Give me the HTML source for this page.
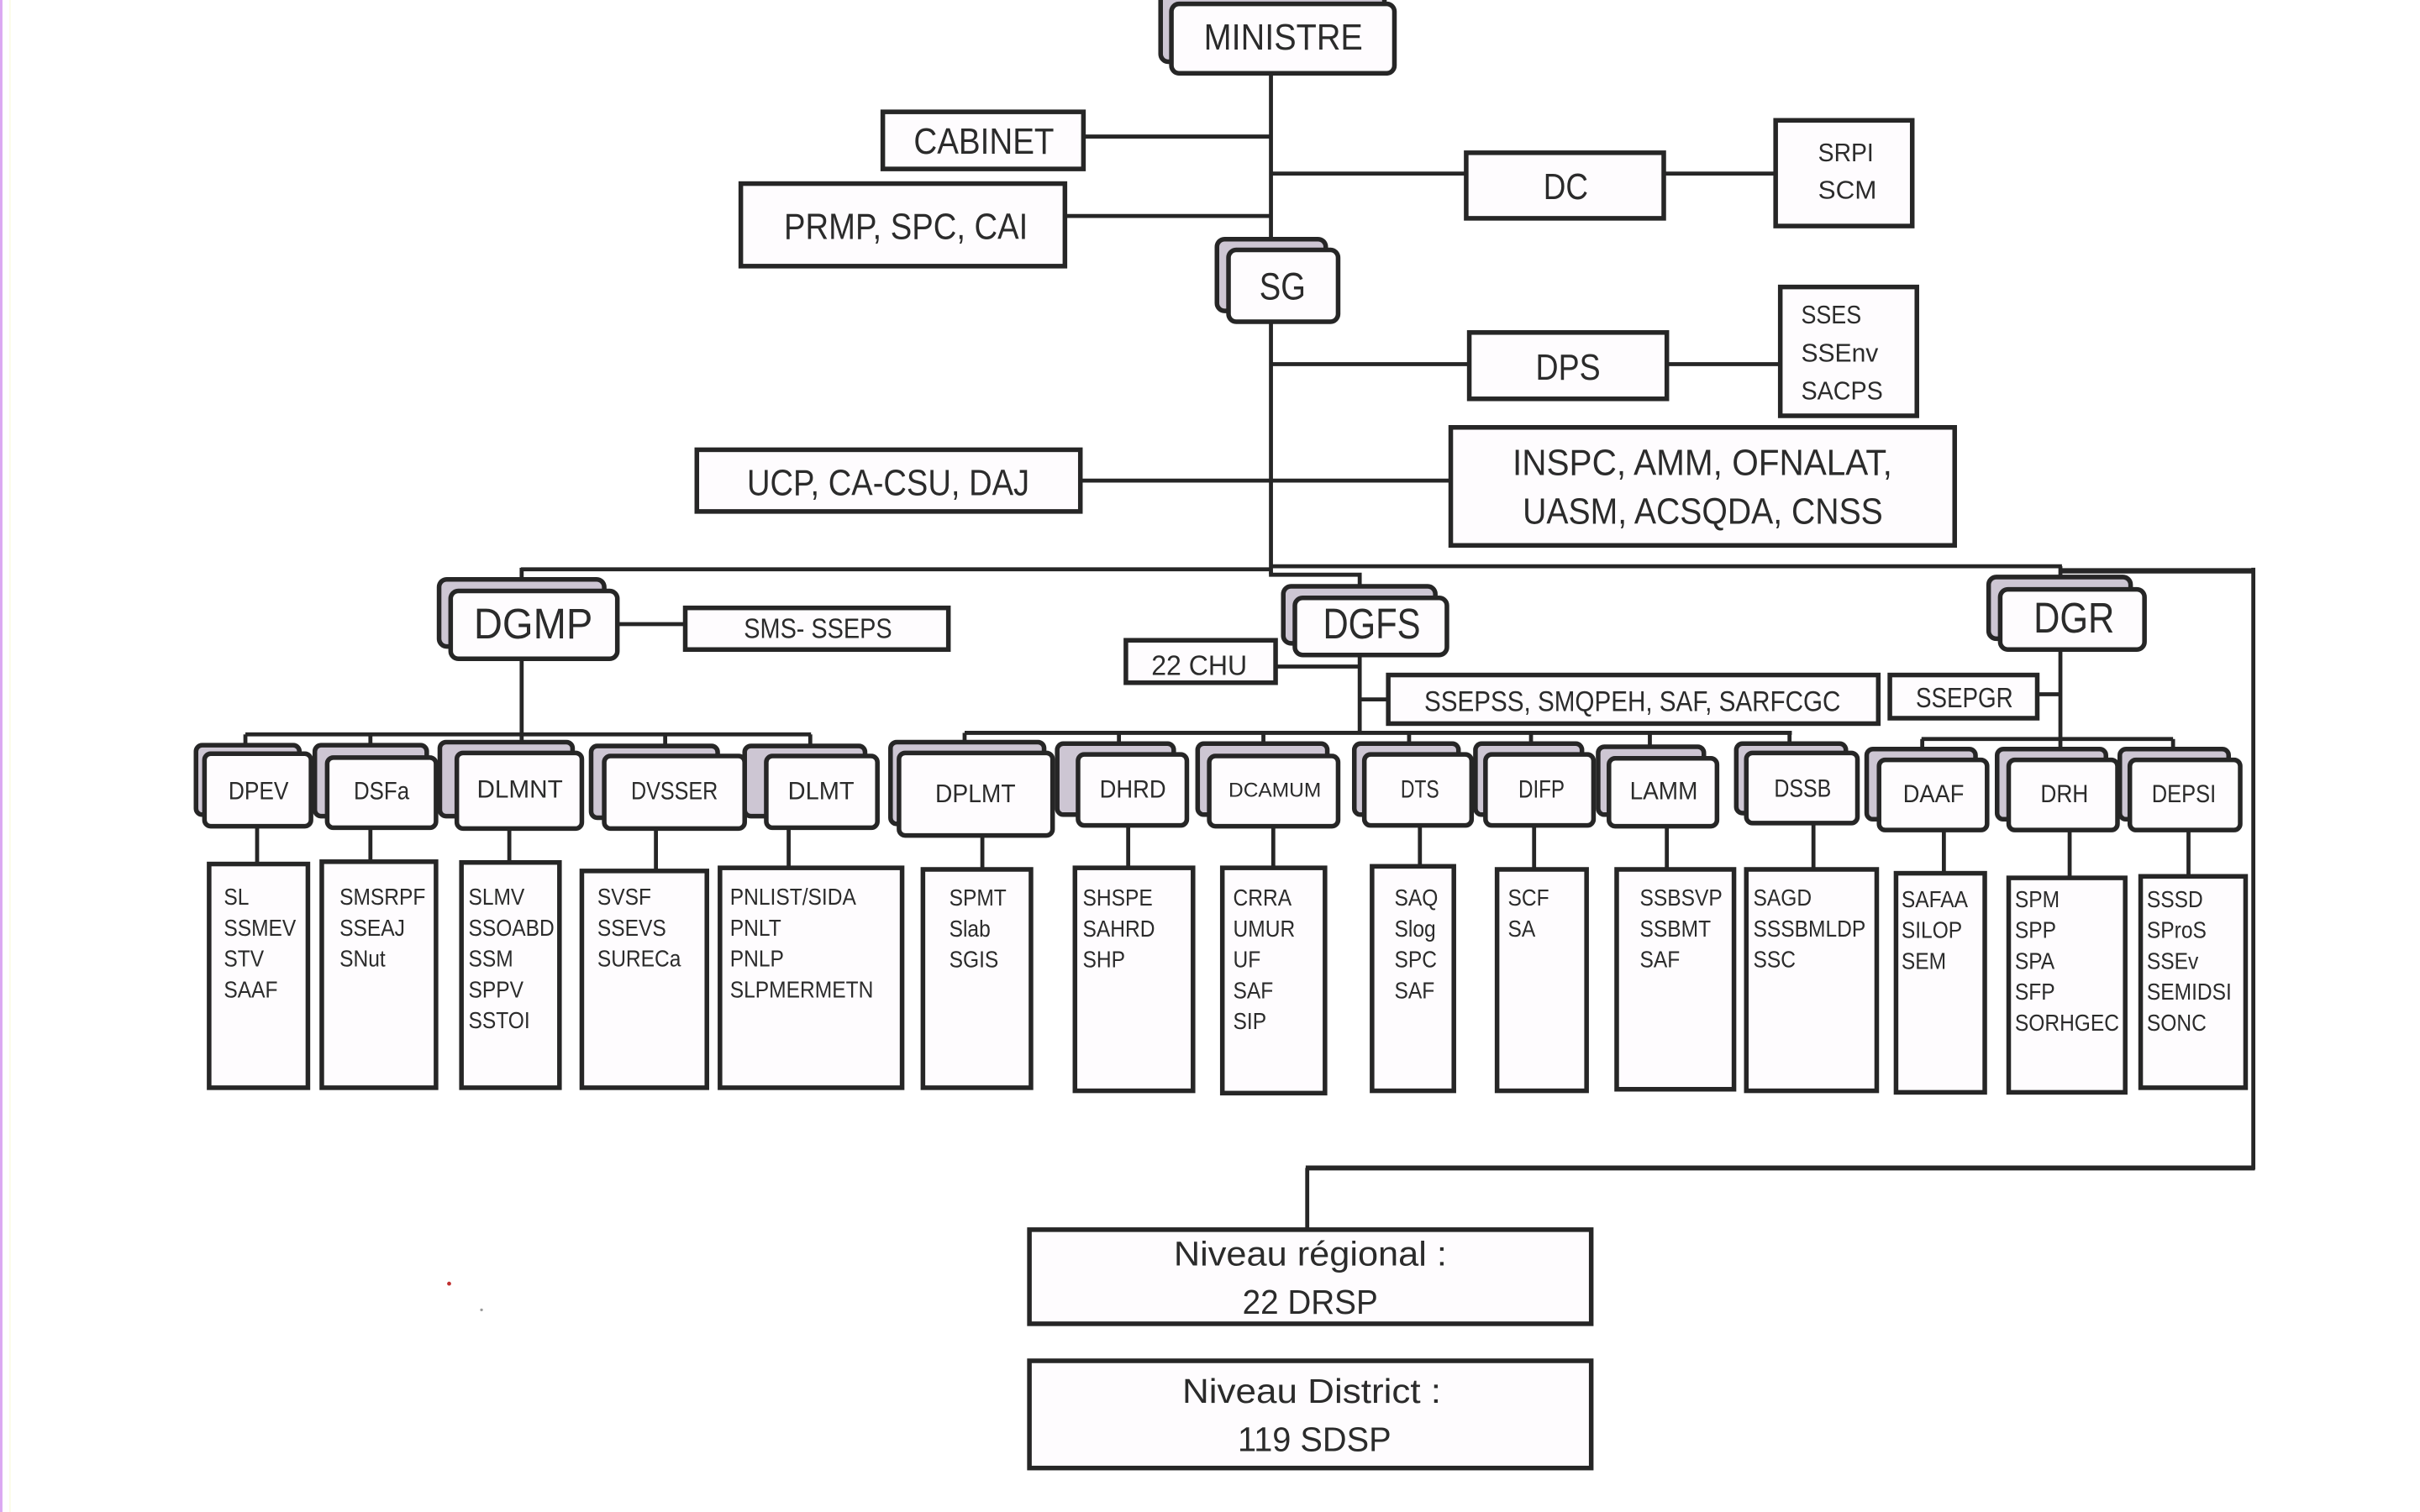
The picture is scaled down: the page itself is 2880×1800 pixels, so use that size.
<!DOCTYPE html>
<html><head><meta charset="utf-8"><style>
html,body{margin:0;padding:0;background:#fff;overflow:hidden}
svg{display:block}
.t{font-family:"Liberation Sans",sans-serif;fill:#2b2b2b}
.b{fill:#fefcfe;stroke:#262626;stroke-width:3}
.s{fill:#cdc6d3;stroke:#262626;stroke-width:3}
.l{stroke:#262626;stroke-width:2.6;fill:none}
</style></head><body>
<svg xmlns="http://www.w3.org/2000/svg" width="2880" height="1800" viewBox="0 0 1568 980" preserveAspectRatio="none">
<rect x="0" y="0" width="1568" height="980" fill="#ffffff"/>
<rect x="0" y="0" width="1.6" height="980" fill="#dba8f2"/>
<rect x="6" y="0" width="1" height="980" fill="#fbfbe8"/>

<!-- connectors -->
<g class="l">
<line x1="823.5" y1="44" x2="823.5" y2="372"/>
<line x1="702" y1="88.5" x2="823.5" y2="88.5"/>
<line x1="690" y1="140" x2="823.5" y2="140"/>
<line x1="823.5" y1="112.5" x2="950" y2="112.5"/>
<line x1="1078" y1="112.5" x2="1151" y2="112.5"/>
<line x1="823.5" y1="236" x2="952" y2="236"/>
<line x1="1080" y1="236" x2="1154" y2="236"/>
<line x1="700" y1="311.5" x2="940" y2="311.5"/>
<line x1="337.5" y1="369" x2="823.5" y2="369"/>
<line x1="823.5" y1="367" x2="1336" y2="367"/>
<line x1="1335" y1="370" x2="1460" y2="370" stroke-width="3.5"/>
<line x1="1460" y1="368" x2="1460" y2="758"/>
<line x1="1461" y1="757" x2="846" y2="757" stroke-width="3.2"/>
<line x1="847" y1="757" x2="847" y2="797"/>
<line x1="338" y1="368" x2="338" y2="377"/>
<polyline points="823.5,371 823.5,372.5 881,372.5 881,381"/>
<line x1="1335" y1="367" x2="1335" y2="375"/>
<line x1="400" y1="404.5" x2="444" y2="404.5"/>
<line x1="338" y1="427" x2="338" y2="482"/>
<line x1="159" y1="476" x2="525.5" y2="476"/>
<line x1="159" y1="476" x2="159" y2="484"/>
<line x1="240" y1="476" x2="240" y2="484"/>
<line x1="431" y1="476" x2="431" y2="485"/>
<line x1="525" y1="476" x2="525" y2="485"/>
<line x1="826" y1="432" x2="881" y2="432"/>
<line x1="881" y1="424" x2="881" y2="476"/>
<line x1="881" y1="453.3" x2="899" y2="453.3"/>
<line x1="625" y1="475" x2="1161" y2="475"/>
<line x1="625" y1="475" x2="625" y2="482"/>
<line x1="725" y1="475" x2="725" y2="483"/>
<line x1="818.6" y1="475" x2="818.6" y2="483"/>
<line x1="913" y1="475" x2="913" y2="483"/>
<line x1="992" y1="475" x2="992" y2="483"/>
<line x1="1069" y1="475" x2="1069" y2="485"/>
<line x1="1159.5" y1="475" x2="1159.5" y2="483"/>
<line x1="1335" y1="421" x2="1335" y2="480"/>
<line x1="1320" y1="450" x2="1335" y2="450"/>
<line x1="1245" y1="479" x2="1408" y2="479"/>
<line x1="1245.5" y1="479" x2="1245.5" y2="487"/>
<line x1="1335" y1="479" x2="1335" y2="487"/>
<line x1="1408" y1="479" x2="1408" y2="487"/>
<line x1="166.6" y1="535" x2="166.6" y2="561"/>
<line x1="240" y1="536" x2="240" y2="559"/>
<line x1="330" y1="537" x2="330" y2="560"/>
<line x1="425" y1="537" x2="425" y2="565"/>
<line x1="511" y1="536" x2="511" y2="563"/>
<line x1="636.5" y1="541" x2="636.5" y2="564"/>
<line x1="731" y1="535" x2="731" y2="563"/>
<line x1="825" y1="535" x2="825" y2="563"/>
<line x1="920" y1="535" x2="920" y2="562"/>
<line x1="994" y1="535" x2="994" y2="564"/>
<line x1="1080" y1="535" x2="1080" y2="564"/>
<line x1="1175" y1="533" x2="1175" y2="564"/>
<line x1="1259.5" y1="538" x2="1259.5" y2="567"/>
<line x1="1341" y1="538" x2="1341" y2="570"/>
<line x1="1418" y1="538" x2="1418" y2="569"/>
</g>

<!-- top level boxes -->
<rect class="s" x="752" y="-6" width="145" height="46" rx="5"/>
<rect class="b" x="759" y="2.5" width="144.5" height="45" rx="5"/>
<rect class="b" x="572" y="72.5" width="130" height="37"/>
<rect class="b" x="480" y="119" width="210" height="53.5"/>
<rect class="b" x="950" y="99" width="128" height="42.5"/>
<rect class="b" x="1150.5" y="78" width="88.5" height="68.5"/>
<rect class="s" x="788.5" y="155" width="70.5" height="46.5" rx="5"/>
<rect class="b" x="796" y="162" width="71" height="46.5" rx="5"/>
<rect class="b" x="952" y="215.5" width="128" height="43"/>
<rect class="b" x="1153.5" y="186" width="88.5" height="83.5"/>
<rect class="b" x="451.5" y="291.5" width="248.5" height="40"/>
<rect class="b" x="940" y="277" width="326.5" height="76.5"/>

<rect class="s" x="284.5" y="375.5" width="107" height="43.5" rx="5"/>
<rect class="b" x="292" y="383" width="108" height="44" rx="5"/>
<rect class="b" x="444" y="394" width="170.5" height="27"/>
<rect class="s" x="831.5" y="380" width="98.5" height="37" rx="5"/>
<rect class="b" x="839" y="387.5" width="98.5" height="37" rx="5"/>
<rect class="b" x="729.5" y="415" width="97" height="27.5"/>
<rect class="b" x="899.5" y="437.5" width="317.5" height="31.5"/>
<rect class="b" x="1224.5" y="437.5" width="95.5" height="28"/>
<rect class="s" x="1288.5" y="374" width="92" height="40" rx="5"/>
<rect class="b" x="1296" y="382" width="93.5" height="39" rx="5"/>

<!-- child boxes -->
<rect class="s" x="127" y="483" width="67" height="45" rx="4"/>
<rect class="b" x="132.5" y="488.5" width="69" height="47" rx="4"/>
<rect class="s" x="204" y="483" width="72.5" height="46" rx="4"/>
<rect class="b" x="212" y="491" width="70.5" height="45.5" rx="4"/>
<rect class="s" x="285" y="481" width="86" height="48" rx="4"/>
<rect class="b" x="296" y="488" width="81" height="49" rx="4"/>
<rect class="s" x="383" y="483.5" width="82" height="46.5" rx="4"/>
<rect class="b" x="391.5" y="490" width="91" height="47" rx="4"/>
<rect class="s" x="482.5" y="483.5" width="78" height="45.5" rx="4"/>
<rect class="b" x="496.5" y="490" width="72" height="46.5" rx="4"/>
<rect class="s" x="577" y="481" width="99.5" height="53" rx="4"/>
<rect class="b" x="582.5" y="488" width="99.5" height="53.5" rx="4"/>
<rect class="s" x="685" y="482" width="75.5" height="46" rx="4"/>
<rect class="b" x="698.5" y="489" width="70.5" height="46" rx="4"/>
<rect class="s" x="776" y="482" width="84" height="46" rx="4"/>
<rect class="b" x="783.5" y="490" width="83.5" height="45.5" rx="4"/>
<rect class="s" x="877.5" y="482" width="67.5" height="46" rx="4"/>
<rect class="b" x="884" y="489" width="69.5" height="46" rx="4"/>
<rect class="s" x="956" y="482" width="69" height="46" rx="4"/>
<rect class="b" x="962.5" y="489" width="70" height="46" rx="4"/>
<rect class="s" x="1035.5" y="484" width="68.5" height="44" rx="4"/>
<rect class="b" x="1042.5" y="491.5" width="70" height="44" rx="4"/>
<rect class="s" x="1125" y="482" width="71" height="45" rx="4"/>
<rect class="b" x="1131.5" y="488" width="72" height="45.5" rx="4"/>
<rect class="s" x="1209.5" y="485.5" width="70.5" height="45.5" rx="4"/>
<rect class="b" x="1217.5" y="492.5" width="70" height="45.5" rx="4"/>
<rect class="s" x="1294" y="485.5" width="70.5" height="45.5" rx="4"/>
<rect class="b" x="1301.5" y="492.5" width="70.5" height="45.5" rx="4"/>
<rect class="s" x="1373.5" y="485.5" width="70.5" height="45.5" rx="4"/>
<rect class="b" x="1380" y="492.5" width="71.5" height="45.5" rx="4"/>

<!-- list boxes -->
<rect class="b" x="135.5" y="560" width="64" height="145"/>
<rect class="b" x="208.5" y="558.5" width="74" height="146.5"/>
<rect class="b" x="299" y="559" width="63.5" height="146"/>
<rect class="b" x="377" y="564.5" width="81" height="140.5"/>
<rect class="b" x="466.5" y="562.5" width="118" height="142.5"/>
<rect class="b" x="598" y="563.5" width="70" height="141.5"/>
<rect class="b" x="696.5" y="562.5" width="76.5" height="144.5"/>
<rect class="b" x="792" y="562.5" width="66.5" height="146"/>
<rect class="b" x="889" y="561.5" width="53" height="145.5"/>
<rect class="b" x="970" y="563.5" width="58" height="143.5"/>
<rect class="b" x="1047.5" y="563.5" width="76" height="142.5"/>
<rect class="b" x="1131.5" y="563.5" width="84.5" height="143.5"/>
<rect class="b" x="1228.5" y="566" width="57.5" height="142"/>
<rect class="b" x="1301.5" y="569" width="75.5" height="139"/>
<rect class="b" x="1387" y="568" width="68" height="137"/>

<!-- bottom boxes -->
<rect class="b" x="667" y="797" width="364" height="61"/>
<rect class="b" x="667" y="882" width="364" height="69.5"/>

<!-- labels -->
<g class="t" text-anchor="middle">
<text x="831.5" y="32" font-size="23.5" textLength="103" lengthAdjust="spacingAndGlyphs">MINISTRE</text>
<text x="637.5" y="99.7" font-size="23.5" textLength="91" lengthAdjust="spacingAndGlyphs">CABINET</text>
<text x="587" y="155" font-size="23.5" textLength="158" lengthAdjust="spacingAndGlyphs">PRMP, SPC, CAI</text>
<text x="1014.5" y="129" font-size="23.5" textLength="29" lengthAdjust="spacingAndGlyphs">DC</text>
<text x="1196" y="104.5" font-size="16.5" textLength="36" lengthAdjust="spacingAndGlyphs">SRPI</text>
<text x="1197" y="128.8" font-size="16.5" textLength="38" lengthAdjust="spacingAndGlyphs">SCM</text>
<text x="831" y="194" font-size="24.5" textLength="30" lengthAdjust="spacingAndGlyphs">SG</text>
<text x="1016" y="246" font-size="23.5" textLength="42" lengthAdjust="spacingAndGlyphs">DPS</text>
<text x="575.5" y="321" font-size="23.5" textLength="183" lengthAdjust="spacingAndGlyphs">UCP, CA-CSU, DAJ</text>
<text x="1103" y="308" font-size="23.5" textLength="246" lengthAdjust="spacingAndGlyphs">INSPC, AMM, OFNALAT,</text>
<text x="1103.3" y="339.5" font-size="23.5" textLength="233.4" lengthAdjust="spacingAndGlyphs">UASM, ACSQDA, CNSS</text>
<text x="345.5" y="413.8" font-size="28" textLength="77" lengthAdjust="spacingAndGlyphs">DGMP</text>
<text x="530" y="413.5" font-size="18" textLength="96" lengthAdjust="spacingAndGlyphs">SMS- SSEPS</text>
<text x="888.8" y="413.8" font-size="28" textLength="63.2" lengthAdjust="spacingAndGlyphs">DGFS</text>
<text x="777" y="437.5" font-size="18" textLength="62" lengthAdjust="spacingAndGlyphs">22 CHU</text>
<text x="1057.7" y="461" font-size="18.5" textLength="269.7" lengthAdjust="spacingAndGlyphs">SSEPSS, SMQPEH, SAF, SARFCGC</text>
<text x="1272.8" y="458.3" font-size="18" textLength="63" lengthAdjust="spacingAndGlyphs">SSEPGR</text>
<text x="1343.8" y="410" font-size="28" textLength="52.4" lengthAdjust="spacingAndGlyphs">DGR</text>

<text x="167.5" y="518" font-size="16" textLength="39" lengthAdjust="spacingAndGlyphs">DPEV</text>
<text x="247.2" y="518" font-size="16" textLength="36" lengthAdjust="spacingAndGlyphs">DSFa</text>
<text x="336.8" y="517" font-size="16" textLength="55.7" lengthAdjust="spacingAndGlyphs">DLMNT</text>
<text x="437" y="518" font-size="16" textLength="56.3" lengthAdjust="spacingAndGlyphs">DVSSER</text>
<text x="532" y="518" font-size="16" textLength="43" lengthAdjust="spacingAndGlyphs">DLMT</text>
<text x="632" y="520" font-size="16.5" textLength="52" lengthAdjust="spacingAndGlyphs">DPLMT</text>
<text x="734" y="517" font-size="16" textLength="43" lengthAdjust="spacingAndGlyphs">DHRD</text>
<text x="826" y="516.3" font-size="13" textLength="60" lengthAdjust="spacingAndGlyphs">DCAMUM</text>
<text x="920" y="517" font-size="16" textLength="25" lengthAdjust="spacingAndGlyphs">DTS</text>
<text x="998.8" y="517" font-size="16" textLength="30" lengthAdjust="spacingAndGlyphs">DIFP</text>
<text x="1078" y="518" font-size="16" textLength="44" lengthAdjust="spacingAndGlyphs">LAMM</text>
<text x="1168" y="516.3" font-size="16" textLength="37" lengthAdjust="spacingAndGlyphs">DSSB</text>
<text x="1252.8" y="520" font-size="16" textLength="39.6" lengthAdjust="spacingAndGlyphs">DAAF</text>
<text x="1337.6" y="520" font-size="16" textLength="31" lengthAdjust="spacingAndGlyphs">DRH</text>
<text x="1415" y="520" font-size="16" textLength="41.6" lengthAdjust="spacingAndGlyphs">DEPSI</text>

<text x="849" y="820.3" font-size="22" textLength="177" lengthAdjust="spacingAndGlyphs">Niveau régional :</text>
<text x="848.9" y="851.5" font-size="22" textLength="87.7" lengthAdjust="spacingAndGlyphs">22 DRSP</text>
<text x="849.9" y="909.3" font-size="22" textLength="167.7" lengthAdjust="spacingAndGlyphs">Niveau District :</text>
<text x="851.7" y="940.5" font-size="22" textLength="99.4" lengthAdjust="spacingAndGlyphs">119 SDSP</text>
</g>

<g class="t">
<text x="1167" y="209.5" font-size="16.8" textLength="39" lengthAdjust="spacingAndGlyphs">SSES</text>
<text x="1167" y="234.4" font-size="16.8" textLength="50" lengthAdjust="spacingAndGlyphs">SSEnv</text>
<text x="1167" y="259" font-size="16.8" textLength="53" lengthAdjust="spacingAndGlyphs">SACPS</text>
</g>

<!-- lists -->
<g class="t" font-size="15.2">
<text transform="translate(145,0) scale(0.88,1)"><tspan x="0" y="586.5">SL</tspan><tspan x="0" y="606.5">SSMEV</tspan><tspan x="0" y="626.5">STV</tspan><tspan x="0" y="646.5">SAAF</tspan></text>
<text transform="translate(220,0) scale(0.88,1)"><tspan x="0" y="586.5">SMSRPF</tspan><tspan x="0" y="606.5">SSEAJ</tspan><tspan x="0" y="626.5">SNut</tspan></text>
<text transform="translate(303.5,0) scale(0.88,1)"><tspan x="0" y="586.5">SLMV</tspan><tspan x="0" y="606.5">SSOABD</tspan><tspan x="0" y="626.5">SSM</tspan><tspan x="0" y="646.5">SPPV</tspan><tspan x="0" y="666.5">SSTOI</tspan></text>
<text transform="translate(387,0) scale(0.88,1)"><tspan x="0" y="586.5">SVSF</tspan><tspan x="0" y="606.5">SSEVS</tspan><tspan x="0" y="626.5">SURECa</tspan></text>
<text transform="translate(473,0) scale(0.88,1)"><tspan x="0" y="586.5">PNLIST/SIDA</tspan><tspan x="0" y="606.5">PNLT</tspan><tspan x="0" y="626.5">PNLP</tspan><tspan x="0" y="646.5">SLPMERMETN</tspan></text>
<text transform="translate(615,0) scale(0.88,1)"><tspan x="0" y="587">SPMT</tspan><tspan x="0" y="607">Slab</tspan><tspan x="0" y="627">SGIS</tspan></text>
<text transform="translate(701.5,0) scale(0.88,1)"><tspan x="0" y="587">SHSPE</tspan><tspan x="0" y="607">SAHRD</tspan><tspan x="0" y="627">SHP</tspan></text>
<text transform="translate(799,0) scale(0.88,1)"><tspan x="0" y="587">CRRA</tspan><tspan x="0" y="607">UMUR</tspan><tspan x="0" y="627">UF</tspan><tspan x="0" y="647">SAF</tspan><tspan x="0" y="667">SIP</tspan></text>
<text transform="translate(903.5,0) scale(0.88,1)"><tspan x="0" y="587">SAQ</tspan><tspan x="0" y="607">Slog</tspan><tspan x="0" y="627">SPC</tspan><tspan x="0" y="647">SAF</tspan></text>
<text transform="translate(977,0) scale(0.88,1)"><tspan x="0" y="587">SCF</tspan><tspan x="0" y="607">SA</tspan></text>
<text transform="translate(1062.5,0) scale(0.88,1)"><tspan x="0" y="587">SSBSVP</tspan><tspan x="0" y="607">SSBMT</tspan><tspan x="0" y="627">SAF</tspan></text>
<text transform="translate(1136,0) scale(0.88,1)"><tspan x="0" y="587">SAGD</tspan><tspan x="0" y="607">SSSBMLDP</tspan><tspan x="0" y="627">SSC</tspan></text>
<text transform="translate(1232,0) scale(0.88,1)"><tspan x="0" y="588">SAFAA</tspan><tspan x="0" y="608">SILOP</tspan><tspan x="0" y="628">SEM</tspan></text>
<text transform="translate(1305.5,0) scale(0.88,1)"><tspan x="0" y="588">SPM</tspan><tspan x="0" y="608">SPP</tspan><tspan x="0" y="628">SPA</tspan><tspan x="0" y="648">SFP</tspan><tspan x="0" y="668">SORHGEC</tspan></text>
<text transform="translate(1391,0) scale(0.88,1)"><tspan x="0" y="588">SSSD</tspan><tspan x="0" y="608">SProS</tspan><tspan x="0" y="628">SSEv</tspan><tspan x="0" y="648">SEMIDSI</tspan><tspan x="0" y="668">SONC</tspan></text>
</g>

<circle cx="291" cy="832" r="1.3" fill="#c03030"/>
<circle cx="312" cy="849" r="0.9" fill="#999"/>
</svg>
</body></html>
